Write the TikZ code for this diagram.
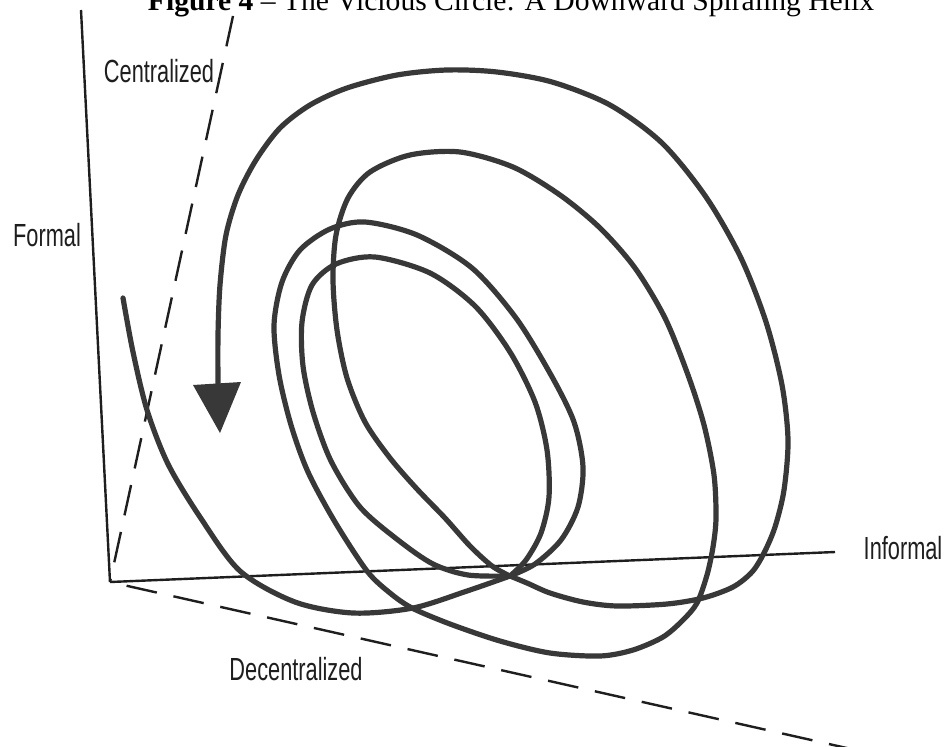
\documentclass[tikz,border=0pt]{standalone}
\usepackage{fontspec}
\setmainfont{Liberation Serif}
\newfontfamily\labfont[FakeStretch=0.68]{Liberation Sans}
\definecolor{spiralgray}{HTML}{383838}
\definecolor{axisblack}{HTML}{1E1E1E}
\begin{document}
\begin{tikzpicture}[x=0.75pt,y=-0.75pt,
  spiral/.style={line width=3.9pt, draw=spiralgray, line cap=round, line join=round},
  axisline/.style={line width=1.8pt, draw=axisblack},
  dashaxis/.style={axisline, dash pattern=on 23.25pt off 12.75pt},
  lab/.style={font=\labfont\fontsize{24}{24}\selectfont, text=axisblack, inner sep=0pt}]
\useasboundingbox (0,0) rectangle (948,746);
\clip (0,0) rectangle (948,746);
\fill[white] (0,0) rectangle (948,746);

% title (cut off at the top, as in the scan)
\node[anchor=base, font=\fontsize{22.2}{22.2}\selectfont, text=black] (title) at (511,10)
  {\textbf{Figure 4} -- The Vicious Circle: A Downward Spiraling Helix};

% axes
\coordinate (O) at (110,582);
\coordinate (Ftop) at (81,10);
\coordinate (Ctop) at (233,16);
\coordinate (Iend) at (835,552);
\coordinate (Dend) at (860,751);
\draw[axisline] (Ftop) -- (O);
\draw[axisline] (O) -- (Iend);
\draw[dashaxis] (Ctop) -- (O);
\draw[dashaxis, dash phase=23.25pt] (O) -- (Dend);

% labels
\node[lab] (cen) at (159,71) {Centralized};
\node[lab] (for) at (47,235) {Formal};
\node[lab] (inf) at (903,548) {Informal};
\node[lab] (dec) at (296,669) {Decentralized};

% spiral
\coordinate (J) at (510,576);
% tail
\draw[spiral] plot[smooth] coordinates {(123,298) (133,352) (147,410) (168,464) (200,517) (240,571) (295,602) (353,613) (413,608) (467,591) (510,576)};
% innermost loop
\draw[spiral] plot[smooth] coordinates {(510,576) (526,560) (541,533) (549,497) (547,450) (535,402) (510,352) (475,306) (430,273) (375,257) (336,264) (312,285) (302,322) (303,366) (313,412) (331,461) (360,507) (398,540) (433,564) (468,575) (510,576)};
% middle loops
\draw[spiral] plot[smooth] coordinates {(510,576) (535,564) (561,540) (578,507) (583,467) (574,422) (551,375) (516,318) (472,268) (417,235) (365,222) (330,229) (300,250) (282,282) (274,325) (279,375) (291,425) (308,472) (335,522) (367,571) (390,593) (412,608) (450,624) (500,641) (550,653) (600,656) (633,650) (663,637) (683,620) (697,603) (707,575) (713,547) (716,518) (714,475) (704,425) (688,375) (665,318) (635,268) (600,228) (560,195) (513,167) (460,152) (410,155) (370,172) (348,198) (336,235) (333,280) (337,330) (347,378) (365,422) (390,458) (417,489) (445,518) (470,546) (492,566) (510,576)};
% outer loop with arrow
\draw[spiral] plot[smooth] coordinates {(510,576) (527,583) (550,593) (583,602) (617,606) (667,604) (703,598) (733,587) (752,572) (764,553) (775,527) (784,490) (788,440) (782,385) (766,322) (741,258) (706,197) (662,143) (610,105) (552,82) (497,72) (447,70) (397,75) (347,88) (310,105) (280,128) (256,160) (238,195) (226,235) (220,285) (218,335) (218,388)};
\fill[spiralgray] (193,385) -- (241,382) -- (220,433) -- cycle;
\end{tikzpicture}
\end{document}
